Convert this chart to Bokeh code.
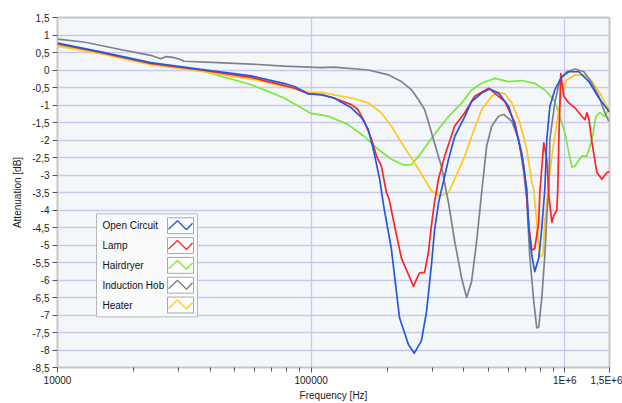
from bokeh.plotting import figure
from bokeh.models import FixedTicker, CustomJSTickFormatter, Range1d, LinearScale
from bokeh.core.properties import value
from bokeh.embed import file_html
from bokeh.resources import INLINE

# ---------------- data ----------------
series_names = ["Open Circuit", "Lamp", "Hairdryer", "Induction Hob", "Heater"]
series_colors = ["#2458e0", "#ff2424", "#7ee83a", "#80808c", "#ffc81e"]

oc_freq = [10000, 14800, 23300, 36700, 58000, 78000, 86000, 97300, 110000, 123000, 144000,
           158000, 168000, 177000, 186000, 194000, 207000, 223000, 242000, 255000, 272000,
           285000, 298000, 306000, 318000, 348000, 368000, 403000, 429000, 470000, 505000,
           548000, 601000, 635000, 676000, 708000, 721000, 741000, 761000, 789000, 811000,
           834000, 849000, 873000, 913000, 973000, 1037000, 1136000, 1245000, 1362000, 1500000]
oc_db = [0.77, 0.52, 0.21, 0.02, -0.17, -0.38, -0.47, -0.68, -0.71, -0.80, -1.08,
         -1.36, -1.70, -2.36, -3.10, -3.97, -5.10, -7.08, -7.85, -8.09, -7.74,
         -6.90, -5.57, -4.62, -3.78, -2.55, -1.90, -1.33, -0.90, -0.66, -0.54,
         -0.66, -1.04, -1.60, -2.36, -3.40, -4.53, -5.30, -5.76, -5.38, -4.53,
         -3.40, -1.98, -1.04, -0.57, -0.19, -0.05, -0.05, -0.33, -0.80, -1.20]

lamp_freq = [10000, 14800, 23300, 36700, 58000, 78000, 86000, 97300, 110000, 123000, 144000,
             153000, 162000, 173000, 181000, 189000, 198000, 203000, 213000, 227000, 242000,
             253000, 267000, 280000, 290000, 298000, 306000, 318000, 336000, 368000, 403000,
             441000, 501000, 580000, 635000, 689000, 708000, 721000, 741000, 761000, 789000,
             797000, 826000, 849000, 865000, 889000, 905000, 930000, 938000, 947000, 964000,
             991000, 1037000, 1096000, 1167000, 1200000, 1222000, 1245000, 1280000, 1338000,
             1400000, 1465000, 1500000]
lamp_db = [0.75, 0.50, 0.19, 0.00, -0.21, -0.44, -0.52, -0.68, -0.70, -0.80, -0.99,
           -1.13, -1.47, -1.98, -2.46, -2.74, -3.50, -3.70, -4.44, -5.38, -5.85,
           -6.18, -5.80, -5.78, -5.20, -4.44, -3.80, -3.10, -2.46, -1.60, -1.22,
           -0.75, -0.52, -0.90, -1.50, -2.74, -3.60, -4.44, -5.15, -5.10, -4.35,
           -3.50, -2.08, -2.55, -3.60, -4.35, -4.16, -4.00, -3.40, -2.00, -0.10,
           -0.75, -0.94, -1.08, -1.32, -1.42, -1.22, -1.42, -2.08, -2.93,
           -3.12, -2.93, -2.90]

hd_freq = [10000, 14800, 23300, 36700, 49600, 58000, 67600, 78200, 91300, 100000, 110000,
           117000, 140000, 162000, 184000, 207000, 233000, 249000, 272000, 306000, 348000,
           392000, 429000, 470000, 529000, 601000, 676000, 761000, 834000, 905000, 947000,
           1000000, 1037000, 1066000, 1096000, 1167000, 1222000, 1280000, 1327000, 1375000,
           1438000, 1492000]
hd_db = [0.71, 0.50, 0.17, -0.02, -0.28, -0.42, -0.61, -0.80, -1.08, -1.24, -1.29,
         -1.32, -1.56, -1.90, -2.27, -2.55, -2.72, -2.70, -2.36, -1.84, -1.33,
         -0.94, -0.57, -0.38, -0.24, -0.33, -0.30, -0.38, -0.57, -0.85, -1.22,
         -1.80, -2.36, -2.78, -2.74, -2.46, -2.46, -1.98, -1.32, -1.22,
         -1.33, -1.08]

ih_freq = [10000, 12700, 17300, 23300, 25500, 26700, 28500, 30600, 31500, 42900, 57900, 78200,
           109600, 123000, 168000, 202000, 227000, 249000, 265000, 280000, 293000, 306000,
           326000, 348000, 368000, 392000, 410000, 429000, 449000, 470000, 492000, 515000,
           548000, 574000, 618000, 658000, 689000, 708000, 727000, 754000, 775000, 789000,
           811000, 834000, 849000, 865000, 873000, 913000, 956000, 1018000, 1096000, 1189000,
           1256000, 1362000, 1438000, 1492000]
ih_db = [0.88, 0.80, 0.60, 0.42, 0.32, 0.38, 0.36, 0.30, 0.25, 0.21, 0.17, 0.11,
         0.07, 0.08, 0.00, -0.14, -0.33, -0.57, -0.85, -1.13, -1.60, -2.08,
         -2.74, -3.80, -4.90, -5.95, -6.50, -6.04, -4.90, -3.50, -2.17, -1.60,
         -1.32, -1.27, -1.47, -1.98, -2.93, -3.70, -5.30, -6.60, -7.37, -7.35,
         -6.52, -5.30, -4.16, -3.40, -1.98, -0.94, -0.28, -0.05, 0.03, -0.05,
         -0.28, -0.75, -1.22, -1.47]

ht_freq = [10000, 14800, 23300, 36700, 58000, 78200, 97300, 110000, 123000, 144000, 168000,
           189000, 207000, 227000, 255000, 280000, 298000, 321000, 348000, 368000, 403000,
           429000, 470000, 515000, 548000, 580000, 618000, 664000, 708000, 741000, 754000,
           775000, 797000, 819000, 834000, 857000, 889000, 930000, 973000, 1018000, 1096000,
           1200000, 1280000, 1375000, 1465000, 1500000]
ht_db = [0.68, 0.47, 0.15, -0.03, -0.26, -0.47, -0.63, -0.64, -0.71, -0.80, -0.94,
         -1.22, -1.60, -2.08, -2.64, -3.12, -3.45, -3.60, -3.50, -3.12, -2.46,
         -1.90, -1.13, -0.75, -0.64, -0.68, -0.94, -1.50, -2.27, -3.20, -3.40,
         -4.35, -5.33, -5.30, -4.35, -3.40, -2.46, -1.50, -0.66, -0.28, -0.14,
         -0.15, -0.33, -0.66, -1.04, -1.15]

y_ticks = [1.5, 1, 0.5, 0, -0.5, -1, -1.5, -2, -2.5, -3, -3.5, -4, -4.5, -5, -5.5,
           -6, -6.5, -7, -7.5, -8, -8.5]
x_major_ticks = [10000, 100000, 1000000, 1500000]
x_tick_labels = ["10000", "100000", "1E+6", "1,5E+6"]
x_minor_ticks = [20000, 30000, 40000, 50000, 60000, 70000, 80000, 90000,
                 200000, 300000, 400000, 500000, 600000, 700000, 800000, 900000]
x_grid_ticks = [100000, 1000000]

FONT = "Liberation Sans"

# ---------------- figure ----------------
p = figure(width=622, height=403, x_axis_type="log",
           x_range=(10000, 1500000), y_range=(-8.5, 1.5),
           output_backend="svg", toolbar_location=None,
           min_border_left=57, min_border_right=13, min_border_top=17, min_border_bottom=33)

p.background_fill_color = "#f4f7f9"
p.border_fill_color = "white"
p.outline_line_color = "#c6c6c6"
p.outline_line_width = 2

# grids
p.ygrid.ticker = FixedTicker(ticks=y_ticks)
p.xgrid.ticker = FixedTicker(ticks=x_grid_ticks)
p.grid.grid_line_color = "#c8c8f0"
p.grid.grid_line_width = 1.3

# axes
p.yaxis.ticker = FixedTicker(ticks=y_ticks)
p.yaxis.formatter = CustomJSTickFormatter(
    code="return (Math.round(tick*10)/10).toString().replace('.', ',');")
p.xaxis.ticker = FixedTicker(ticks=x_major_ticks, minor_ticks=x_minor_ticks)
p.xaxis.formatter = CustomJSTickFormatter(
    args=dict(tv=x_major_ticks, tl=x_tick_labels),
    code="""
    for (let i = 0; i < tv.length; i++) {
        if (Math.abs(tick - tv[i]) / tv[i] < 1e-6) return tl[i];
    }
    return "";
    """)

for ax in (p.xaxis[0], p.yaxis[0]):
    ax.axis_line_color = None
    ax.major_tick_line_color = "#555555"
    ax.minor_tick_line_color = "#555555"
    ax.major_tick_in = 0
    ax.major_tick_out = 5
    ax.minor_tick_in = 0
    ax.minor_tick_out = 4
    ax.major_label_text_font = FONT
    ax.major_label_text_font_size = "10px"
    ax.major_label_text_color = "#222222"
    ax.axis_label_text_font = FONT
    ax.axis_label_text_font_size = "10px"
    ax.axis_label_text_font_style = "normal"
    ax.axis_label_text_color = "#222222"

p.yaxis.minor_tick_line_color = None
p.xaxis.axis_label = "Frequency [Hz]"
p.yaxis.axis_label = "Attenuation [dB]"
p.xaxis.major_label_standoff = 2
p.xaxis.axis_label_standoff = 1
p.yaxis.major_label_standoff = 3
p.yaxis.axis_label_standoff = 6

# curves (drawing order: green, yellow, gray, red, blue)
all_series = [(hd_freq, hd_db, 2), (ht_freq, ht_db, 4), (ih_freq, ih_db, 3),
              (lamp_freq, lamp_db, 1), (oc_freq, oc_db, 0)]
for fx, fy, idx in all_series:
    p.line(fx, fy, line_color=series_colors[idx], line_width=1.7, line_join="round")

# ---------------- custom legend (label then zigzag swatch) ----------------
p.extra_x_ranges = {"px": Range1d(57, 609)}
p.extra_x_scales = {"px": LinearScale()}
p.extra_y_ranges = {"px": Range1d(370, 17)}
p.extra_y_scales = {"px": LinearScale()}

leg_left, leg_right, leg_top, leg_bottom = 96, 197, 215, 319
p.quad(left=[leg_left], right=[leg_right], top=[leg_top], bottom=[leg_bottom],
       fill_color="#f8fafb", line_color="#b8b8b8", line_width=1,
       x_range_name="px", y_range_name="px")

row_y = [227 + 20 * i for i in range(len(series_names))]
p.text(x=[102] * len(series_names), y=row_y, text=series_names,
       text_font=value(FONT), text_font_size="10px", text_color="#111111",
       text_baseline="middle", text_align="left",
       x_range_name="px", y_range_name="px")

p.quad(left=[167] * len(series_names), right=[193] * len(series_names),
       top=[cy - 8 for cy in row_y], bottom=[cy + 8 for cy in row_y],
       fill_color="white", line_color="#a8a8a8", line_width=1,
       x_range_name="px", y_range_name="px")

zx = [[168, 177, 186, 192] for _ in row_y]
zy = [[cy + 3.5, cy - 5, cy + 4, cy - 2.5] for cy in row_y]
p.multi_line(xs=zx, ys=zy, line_color=series_colors, line_width=1.4,
             x_range_name="px", y_range_name="px")

open("out.html", "w").write(file_html(p, INLINE))
